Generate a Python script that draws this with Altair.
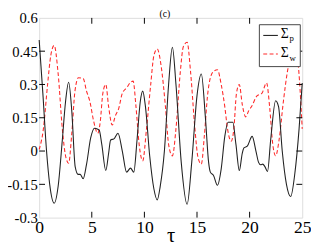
import altair as alt
import pandas as pd

# Sigma_p (solid black)
tau_p = [0, 0.35, 0.7, 1.0, 1.43, 1.8, 2.2, 2.5, 2.8, 3.1, 3.42, 3.7, 3.9, 4.18, 4.5, 4.9,
         5.26, 5.7, 5.95, 6.33, 6.6, 6.79, 7.1, 7.49, 7.9, 8.31, 8.68, 8.99, 9.3, 9.6, 9.84,
         10.1, 10.5, 10.9, 11.22, 11.5, 11.9, 12.3, 12.66, 13.0, 13.5, 14.06, 14.5, 15.0,
         15.41, 15.8, 16.1, 16.27, 16.57, 16.94, 17.3, 17.64, 17.95, 18.4, 18.7, 19.02, 19.3,
         19.48, 19.78, 20.24, 20.6, 20.85, 21.05, 21.25, 21.45, 21.7, 22.0, 22.47, 22.75,
         23.1, 23.5, 23.9, 24.3, 24.7, 25.0]
sig_p = [0.50, 0.26, 0.0, -0.15, -0.235, -0.16, 0.05, 0.22, 0.31, 0.18, -0.07, -0.105, -0.105,
         -0.125, -0.06, 0.06, 0.103, 0.095, 0.03, -0.088, -0.01, 0.05, 0.055, 0.08, 0.0, -0.095,
         -0.077, -0.095, 0.05, 0.22, 0.27, 0.2, -0.02, -0.17, -0.22, -0.16, 0.0, 0.3, 0.468, 0.3,
         -0.05, -0.24, -0.05, 0.25, 0.347, 0.15, -0.05, -0.095, -0.11, -0.154, -0.08, 0.066, 0.13,
         0.13, 0.03, -0.088, -0.01, 0.015, 0.022, 0.066, 0.0, -0.051, -0.062, -0.059, -0.07,
         -0.092, 0.05, 0.227, 0.2, 0.0, -0.15, -0.205, -0.1, 0.1, 0.307]

# Sigma_w (dashed red)
tau_w = [0, 0.4, 0.8, 1.1, 1.43, 1.8, 2.2, 2.5, 2.8, 3.1, 3.4, 3.73, 4.18, 4.5, 4.8, 5.2, 5.56,
         5.8, 6.05, 6.33, 6.6, 6.94, 7.25, 7.55, 7.9, 8.31, 8.7, 8.93, 9.2, 9.5, 9.84, 10.2,
         10.6, 10.9, 11.22, 11.6, 12.0, 12.3, 12.66, 13.0, 13.4, 13.7, 14.06, 14.4, 14.8, 15.1,
         15.41, 15.7, 16.0, 16.27, 16.6, 16.94, 17.3, 17.64, 17.9, 18.25, 18.5, 18.75, 19.02,
         19.3, 19.63, 19.9, 20.24, 20.7, 21.16, 21.61, 21.9, 22.2, 22.47, 22.8, 23.2, 23.6,
         24.0, 24.3, 24.6, 25.0]
sig_w = [0.007, 0.1, 0.3, 0.43, 0.476, 0.35, 0.1, -0.02, -0.055, 0.08, 0.27, 0.33, 0.327, 0.27,
         0.227, 0.13, 0.08, 0.13, 0.26, 0.3, 0.2, 0.117, 0.16, 0.19, 0.26, 0.285, 0.31, 0.315,
         0.2, 0.03, -0.044, 0.1, 0.3, 0.43, 0.46, 0.38, 0.2, 0.03, -0.022, 0.1, 0.35, 0.47, 0.49,
         0.35, 0.1, -0.03, -0.059, 0.07, 0.25, 0.33, 0.36, 0.366, 0.3, 0.2, 0.1, 0.044, 0.1, 0.26,
         0.3, 0.21, 0.154, 0.18, 0.205, 0.249, 0.26, 0.307, 0.2, 0.03, -0.022, 0.05, 0.22, 0.36,
         0.44, 0.47, 0.4, 0.1]

x_ticks = [0, 5, 10, 15, 20, 25]
y_ticks = [-0.3, -0.15, 0, 0.15, 0.3, 0.45, 0.6]
x_inner = [5, 10, 15, 20]
y_inner = [-0.15, 0, 0.15, 0.3, 0.45]

FONT = "Liberation Serif, Times New Roman, Times, serif"
W, H = 270, 205

df_p = pd.DataFrame({"tau": tau_p, "val": sig_p})
df_w = pd.DataFrame({"tau": tau_w, "val": sig_w})
df_xt = pd.DataFrame({"v": x_inner})
df_yt = pd.DataFrame({"v": y_inner})
one = pd.DataFrame({"a": [0]})

xs = alt.Scale(domain=[0, 25], nice=False, zero=False)
ys = alt.Scale(domain=[-0.3, 0.6], nice=False, zero=False)
xaxis = alt.Axis(values=x_ticks, format="d", labelFont=FONT, labelFontSize=18,
                 labelColor="black", ticks=False, domain=False, grid=False,
                 labelPadding=1, labelFlush=False, title="τ", titleFont=FONT,
                 titleFontSize=21, titleFontWeight="normal", titleColor="black",
                 titleY=25, titleBaseline="alphabetic")
yaxis = alt.Axis(values=y_ticks, labelExpr="datum.value + ''", labelFont=FONT,
                 labelFontSize=15, labelColor="black", ticks=False, domain=False,
                 grid=False, labelPadding=2, labelFlush=False, title=None)

X = lambda f: alt.X(f, scale=xs, axis=xaxis)
Y = lambda f: alt.Y(f, scale=ys, axis=yaxis)

line_p = alt.Chart(df_p).mark_line(color="#222222", strokeWidth=1.1,
                                   interpolate="monotone").encode(x=X("tau:Q"), y=Y("val:Q"))
line_w = alt.Chart(df_w).mark_line(color="#ff2a2a", strokeWidth=1.1, strokeDash=[4, 2.5],
                                   interpolate="monotone").encode(x=X("tau:Q"), y=Y("val:Q"))

xt_bot = alt.Chart(df_xt).mark_rule(color="black", strokeWidth=1).encode(
    x=X("v:Q"), y=alt.value(H), y2=alt.value(H - 6))
xt_top = alt.Chart(df_xt).mark_rule(color="black", strokeWidth=1).encode(
    x=X("v:Q"), y=alt.value(0), y2=alt.value(6))
yt_left = alt.Chart(df_yt).mark_rule(color="black", strokeWidth=1).encode(
    y=Y("v:Q"), x=alt.value(0), x2=alt.value(6))
yt_right = alt.Chart(df_yt).mark_rule(color="black", strokeWidth=1).encode(
    y=Y("v:Q"), x=alt.value(W), x2=alt.value(W - 6))

box = alt.Chart(one).mark_rect(fill="white", stroke="#444444", strokeWidth=1).encode(
    x=alt.value(226), x2=alt.value(268), y=alt.value(7), y2=alt.value(50))
leg_p = alt.Chart(one).mark_rule(color="#222222", strokeWidth=1.1).encode(
    x=alt.value(230), x2=alt.value(245), y=alt.value(18))
leg_w = alt.Chart(one).mark_rule(color="#ff2a2a", strokeWidth=1.1, strokeDash=[4, 2.5]).encode(
    x=alt.value(230), x2=alt.value(245), y=alt.value(37))
sig1 = alt.Chart(one).mark_text(text="Σ", font=FONT, fontSize=14, align="left",
                                baseline="alphabetic", color="black").encode(
    x=alt.value(248), y=alt.value(21))
sub1 = alt.Chart(one).mark_text(text="p", font=FONT, fontSize=9, align="left",
                                baseline="alphabetic", color="black").encode(
    x=alt.value(257), y=alt.value(24))
sig2 = alt.Chart(one).mark_text(text="Σ", font=FONT, fontSize=14, align="left",
                                baseline="alphabetic", color="black").encode(
    x=alt.value(248), y=alt.value(40))
sub2 = alt.Chart(one).mark_text(text="w", font=FONT, fontSize=9, align="left",
                                baseline="alphabetic", color="black").encode(
    x=alt.value(257), y=alt.value(44))
title = alt.Chart(one).mark_text(text="(c)", font=FONT, fontSize=10, align="center",
                                 baseline="alphabetic", color="black").encode(
    x=alt.value(129), y=alt.value(-1))

chart = alt.layer(
    line_w, line_p, xt_bot, xt_top, yt_left, yt_right,
    box, leg_p, leg_w, sig1, sub1, sig2, sub2, title
).properties(
    width=W, height=H,
    autosize=alt.AutoSizeParams(type="none"),
    padding={"left": 32, "top": 7, "right": 9, "bottom": 27},
).configure_view(stroke="black", strokeWidth=1).configure(background="white")

chart.save("out.html", embed_options={"renderer": "svg", "actions": False})
